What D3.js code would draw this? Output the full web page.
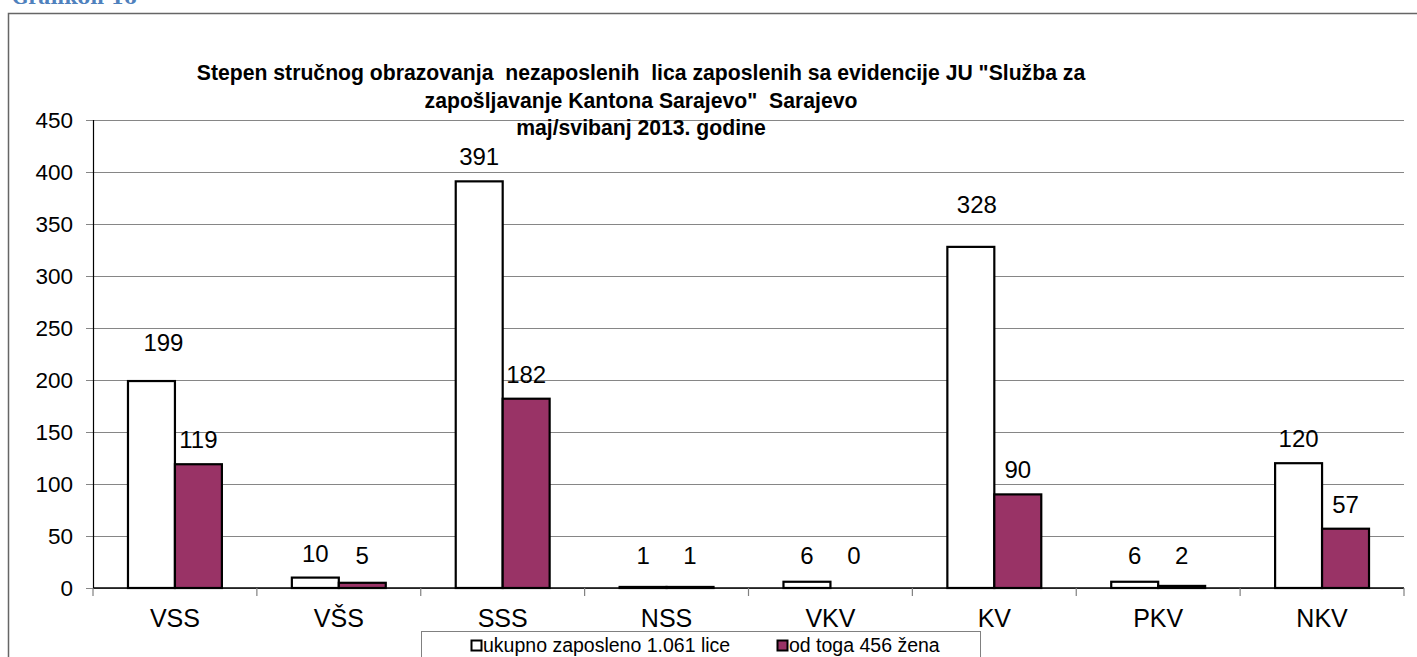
<!DOCTYPE html>
<html>
<head>
<meta charset="utf-8">
<script src="https://cdn.jsdelivr.net/npm/d3@7"></script>
<style>
  body { margin: 0; background: #fff; }
  svg { display: block; font-family: Arial, "Liberation Sans", sans-serif; }
  text { white-space: pre; }
</style>
</head>
<body>
<div id="chart"></div>
<script>
// DATA
const categories = ["VSS", "VŠS", "SSS", "NSS", "VKV", "KV", "PKV", "NKV"];
const seriesNames = ["ukupno zaposleno 1.061 lice", "od toga 456 žena"];
const ukupno = [199, 10, 391, 1, 6, 328, 6, 120];
const zene = [119, 5, 182, 1, 0, 90, 2, 57];
const yTicks = [0, 50, 100, 150, 200, 250, 300, 350, 400, 450];
const titleLines = [
  "Stepen stručnog obrazovanja  nezaposlenih  lica zaposlenih sa evidencije JU \"Služba za",
  "zapošljavanje Kantona Sarajevo\"  Sarajevo",
  "maj/svibanj 2013. godine"
];

// hand nudges for a couple of labels that sit higher in the original
const labelNudge = { "0-0": [12, -14], "0-5": [6, -18] };

const W = 1417, H = 657;
const margin = {top: 120, right: 13, bottom: 69, left: 93};
const colors = ["#ffffff", "#993366"];

const svg = d3.select("#chart").append("svg")
  .attr("width", W)
  .attr("height", H);

// outer frame + caption
svg.append("rect")
  .attr("x", 8.5).attr("y", 13.5)
  .attr("width", W).attr("height", H)
  .attr("fill", "none")
  .attr("stroke", "#666")
  .attr("stroke-width", 1.5);

svg.append("text")
  .attr("x", 12).attr("y", 4)
  .attr("font-family", "'DejaVu Serif', serif")
  .attr("font-weight", "bold")
  .attr("font-size", "19px")
  .attr("fill", "#4f81bd")
  .text("Grafikon 16");

// SCALES
const x0 = d3.scaleBand()
  .domain(categories)
  .range([margin.left, W - margin.right]);

const x1 = d3.scaleBand()
  .domain([0, 1])
  .range([0, x0.bandwidth()])
  .paddingOuter(0.745);

const y = d3.scaleLinear()
  .domain([0, 450])
  .range([H - margin.bottom, margin.top]);

// GRID + Y AXIS
const yAxis = svg.append("g")
  .attr("transform", `translate(${margin.left},0)`)
  .call(d3.axisLeft(y).tickValues(yTicks).tickPadding(13)
    .tickSizeInner(-(W - margin.right - margin.left)).tickSizeOuter(0));
yAxis.select(".domain").remove();
yAxis.selectAll(".tick line")
  .attr("x1", -7)
  .attr("stroke", "#868686")
  .attr("stroke-width", 1.2);
yAxis.selectAll(".tick text")
  .attr("x", -20)
  .attr("font-size", "22.5px")
  .attr("fill", "#000");

svg.append("line")
  .attr("x1", margin.left + 0.5).attr("x2", margin.left + 0.5)
  .attr("y1", y(450)).attr("y2", y(0))
  .attr("stroke", "#000").attr("stroke-width", 1.2);

// BARS
const groups = svg.append("g").selectAll("g")
  .data(categories)
  .join("g")
  .attr("transform", d => `translate(${x0(d)},0)`);

groups.selectAll("rect")
  .data((d, i) => [ukupno[i], zene[i]].map((v, s) => ({v, s, i})))
  .join("rect")
  .attr("x", d => x1(d.s))
  .attr("width", x1.bandwidth())
  .attr("y", d => y(d.v))
  .attr("height", d => y(0) - y(d.v))
  .attr("fill", d => colors[d.s])
  .attr("stroke", "#000")
  .attr("stroke-width", 2.2);

// VALUE LABELS
groups.selectAll("text")
  .data((d, i) => [ukupno[i], zene[i]].map((v, s) => ({v, s, i})))
  .join("text")
  .attr("x", d => x1(d.s) + x1.bandwidth() / 2 + (labelNudge[d.s + "-" + d.i] || [0, 0])[0])
  .attr("y", d => Math.min(y(d.v) - 16, 564) + (labelNudge[d.s + "-" + d.i] || [0, 0])[1])
  .attr("text-anchor", "middle")
  .attr("font-size", "24px")
  .text(d => d.v);

// X AXIS
const xAxis = svg.append("g")
  .attr("transform", `translate(0,${y(0)})`);
xAxis.append("line")
  .attr("x1", margin.left).attr("x2", W - margin.right)
  .attr("stroke", "#000").attr("stroke-width", 1.5);
xAxis.selectAll(".tk")
  .data(categories.concat(["end"]))
  .join("line")
  .attr("class", "tk")
  .attr("x1", (d, i) => margin.left + i * x0.step())
  .attr("x2", (d, i) => margin.left + i * x0.step())
  .attr("y1", 0).attr("y2", 8)
  .attr("stroke", "#808080").attr("stroke-width", 1.2);
xAxis.selectAll(".lbl")
  .data(categories)
  .join("text")
  .attr("class", "lbl")
  .attr("x", d => x0(d) + x0.bandwidth() / 2)
  .attr("y", 39)
  .attr("text-anchor", "middle")
  .attr("font-size", "25px")
  .text(d => d);

// TITLE
svg.append("g").selectAll("text")
  .data(titleLines)
  .join("text")
  .attr("x", 641)
  .attr("y", (d, i) => 80 + i * 27.5)
  .attr("text-anchor", "middle")
  .attr("font-size", "21.2px")
  .attr("font-weight", "bold")
  .text(d => d);

// LEGEND
const legend = svg.append("g");
legend.append("rect")
  .attr("x", 421.5).attr("y", 631.5)
  .attr("width", 559).attr("height", 40)
  .attr("fill", "#fff")
  .attr("stroke", "#808080");
const legendX = [471, 777];
const items = legend.selectAll("g")
  .data(seriesNames)
  .join("g")
  .attr("transform", (d, i) => `translate(${legendX[i]},0)`);
items.append("rect")
  .attr("x", 0.5).attr("y", 640.5)
  .attr("width", 10).attr("height", 10)
  .attr("fill", (d, i) => colors[i])
  .attr("stroke", "#000")
  .attr("stroke-width", 2);
items.append("text")
  .attr("x", 12).attr("y", 652)
  .attr("font-size", "19.5px")
  .text(d => d);
</script>
</body>
</html>
